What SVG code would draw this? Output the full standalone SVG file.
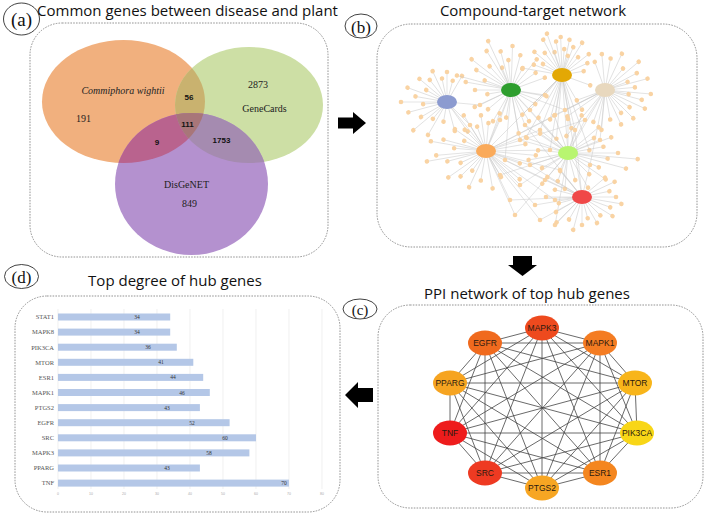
<svg xmlns="http://www.w3.org/2000/svg" xmlns:xlink="http://www.w3.org/1999/xlink" width="708" height="517" viewBox="0 0 708 517">
<style>
.box{fill:none;stroke:#7a7a7a;stroke-width:.8;stroke-dasharray:1.6 1.2}
.ttl{font-family:"Open Sans","Liberation Sans",sans-serif;font-size:15px;fill:#111;text-anchor:middle}
.lbl{font-family:"Liberation Serif",serif;font-size:19px;fill:#111;text-anchor:middle}
.tag{fill:none;stroke:#111;stroke-width:.8}
.vt{font-family:"Liberation Serif",serif;font-size:10px;fill:#222;text-anchor:middle}
.vb{font-family:"Liberation Sans",sans-serif;font-size:8px;font-weight:bold;fill:#111;text-anchor:middle}
.pt{font-family:"Liberation Sans",Arial,sans-serif;font-size:8.5px;fill:#2a1a10;text-anchor:middle}
.cat{font-family:"Liberation Serif",serif;font-size:6.5px;fill:#555;text-anchor:end}
.val{font-family:"Liberation Serif",serif;font-size:5.5px;fill:#333;text-anchor:middle}
.tick{font-family:"Liberation Sans",sans-serif;font-size:3.5px;fill:#aaa;text-anchor:middle}
.bar{fill:#B4C7E7}
.grid{stroke:#e6e6e6;stroke-width:.6}
.arr{fill:#000}
.ppe{fill:none;stroke:#444;stroke-width:.8}
.cte{fill:none;stroke:#c8c8c8;stroke-width:.5}
.sn{fill:#F9D3A3}
</style>
<defs>
<ellipse id="eO" cx="123.5" cy="101.5" rx="81.5" ry="61.5"/>
<ellipse id="eG" cx="249" cy="105" rx="74" ry="58"/>
<ellipse id="eP" cx="191.5" cy="184" rx="76.5" ry="71"/>
<clipPath id="cO"><use href="#eO"/></clipPath>
<clipPath id="cG"><use href="#eG"/></clipPath>
<g id="k16"><path d="M0 0H16" fill="none"/><circle cx="16" r="2.3" stroke="none"/></g>
<g id="k20"><path d="M0 0H20" fill="none"/><circle cx="20" r="2.3" stroke="none"/></g>
<g id="k22"><path d="M0 0H22" fill="none"/><circle cx="22" r="2.3" stroke="none"/></g>
<g id="k24"><path d="M0 0H24" fill="none"/><circle cx="24" r="2.3" stroke="none"/></g>
<g id="k26"><path d="M0 0H26" fill="none"/><circle cx="26" r="2.3" stroke="none"/></g>
<g id="k28"><path d="M0 0H28" fill="none"/><circle cx="28" r="2.3" stroke="none"/></g>
<g id="k30"><path d="M0 0H30" fill="none"/><circle cx="30" r="2.3" stroke="none"/></g>
<g id="k32"><path d="M0 0H32" fill="none"/><circle cx="32" r="2.3" stroke="none"/></g>
<g id="k34"><path d="M0 0H34" fill="none"/><circle cx="34" r="2.3" stroke="none"/></g>
<g id="k36"><path d="M0 0H36" fill="none"/><circle cx="36" r="2.3" stroke="none"/></g>
<g id="k38"><path d="M0 0H38" fill="none"/><circle cx="38" r="2.3" stroke="none"/></g>
<g id="k40"><path d="M0 0H40" fill="none"/><circle cx="40" r="2.3" stroke="none"/></g>
<g id="k42"><path d="M0 0H42" fill="none"/><circle cx="42" r="2.3" stroke="none"/></g>
<g id="k44"><path d="M0 0H44" fill="none"/><circle cx="44" r="2.3" stroke="none"/></g>
<g id="k46"><path d="M0 0H46" fill="none"/><circle cx="46" r="2.3" stroke="none"/></g>
<g id="k50"><path d="M0 0H50" fill="none"/><circle cx="50" r="2.3" stroke="none"/></g>
<g id="k54"><path d="M0 0H54" fill="none"/><circle cx="54" r="2.3" stroke="none"/></g>
<g id="k56"><path d="M0 0H56" fill="none"/><circle cx="56" r="2.3" stroke="none"/></g>
<g id="k60"><path d="M0 0H60" fill="none"/><circle cx="60" r="2.3" stroke="none"/></g>
<g id="k64"><path d="M0 0H64" fill="none"/><circle cx="64" r="2.3" stroke="none"/></g>
<g id="k70"><path d="M0 0H70" fill="none"/><circle cx="70" r="2.3" stroke="none"/></g>
<g id="k72"><path d="M0 0H72" fill="none"/><circle cx="72" r="2.3" stroke="none"/></g>
<g id="k80"><path d="M0 0H80" fill="none"/><circle cx="80" r="2.3" stroke="none"/></g>
</defs>
<rect width="708" height="517" fill="#fff"/>

<!-- Panel boxes and labels -->
<g id="panel-a">
<rect class="box" x="30" y="23" width="298" height="234" rx="32"/>
<ellipse class="tag" cx="21.5" cy="19" rx="18" ry="16"/>
<text class="lbl" x="21.5" y="26">(a)</text>
<text class="ttl" x="187.5" y="15.5">Common genes between disease and plant</text>
</g>
<g id="panel-b">
<rect class="box" x="377" y="24" width="320" height="223" rx="34"/>
<ellipse class="tag" cx="361" cy="26" rx="16" ry="12"/>
<text class="lbl" x="361" y="32.5" style="font-size:17px">(b)</text>
<text class="ttl" x="533" y="15.5">Compound-target network</text>
</g>
<g id="panel-c">
<rect class="box" x="378" y="305" width="325" height="203" rx="32"/>
<ellipse class="tag" cx="360" cy="309" rx="17" ry="10"/>
<text class="lbl" x="360" y="314.5" style="font-size:15px">(c)</text>
<text class="ttl" x="527" y="299">PPI network of top hub genes</text>
</g>
<g id="panel-d">
<rect class="box" x="15" y="296" width="325" height="216" rx="32"/>
<ellipse class="tag" cx="21.5" cy="276.5" rx="17" ry="12"/>
<text class="lbl" x="21.5" y="283" style="font-size:17px">(d)</text>
<text class="ttl" x="175" y="286">Top degree of hub genes</text>
</g>

<!-- Venn -->
<g id="venn">
<use href="#eO" fill="#F1B07E"/>
<use href="#eG" fill="#CDDFA5"/>
<use href="#eP" fill="#B491CF"/>
<use href="#eG" fill="#C9B26F" clip-path="url(#cO)"/>
<use href="#eP" fill="#B9638E" clip-path="url(#cO)"/>
<use href="#eP" fill="#A58BB0" clip-path="url(#cG)"/>
<g clip-path="url(#cO)"><use href="#eP" fill="#A87679" clip-path="url(#cG)"/></g>
<text class="vt" x="123" y="94" font-style="italic">Commiphora wightii</text>
<text class="vt" x="83.5" y="122">191</text>
<text class="vb" x="189" y="100">56</text>
<text class="vt" x="258" y="88">2873</text>
<text class="vt" x="264.5" y="112">GeneCards</text>
<text class="vb" x="187.5" y="127">111</text>
<text class="vb" x="157" y="145">9</text>
<text class="vb" x="221.5" y="143">1753</text>
<text class="vt" x="186.5" y="188">DisGeNET</text>
<text class="vt" x="189.5" y="207">849</text>
</g>

<!-- Compound-target network -->
<g id="ct-edges" class="cte">
<path d="M500 120L511 90M500 120L486 151M530 110L511 90M530 110L562 75M530 110L568 153M540 130L562 75M540 130L486 151M540 130L568 153M520 140L511 90M520 140L568 153M555 115L562 75M555 115L605 90M555 115L486 151M585 120L605 90M585 120L568 153M585 120L486 151M530 165L486 151M530 165L568 153M530 165L582 197M545 180L486 151M545 180L582 197M555 200L486 151M555 200L582 197M520 185L486 151M520 185L568 153M600 140L605 90M600 140L568 153M575 130L562 75M575 130L568 153M575 130L582 197M510 200L486 151M510 200L582 197M545 95L511 90M545 95L562 75M590 165L605 90M590 165L582 197M470 125L447 102M470 125L486 151M480 105L447 102M480 105L511 90M560 170L568 153M560 170L582 197M560 170L486 151M535 205L582 197M535 205L486 151M500 175L486 151M500 175L568 153M525 125L511 90M525 125L568 153M525 125L582 197M550 150L562 75M550 150L486 151M565 110L511 90M565 110L605 90M505 160L511 90M505 160L582 197M540 220L486 151M540 220L582 197M555 225L568 153M555 225L582 197M515 215L486 151M515 215L568 153M511 90L486 151M562 75L568 153M562 75L486 151M605 90L568 153M511 90L568 153M562 75L582 197M605 90L486 151M447 102L486 151"/>
</g>
<g id="ct-leaves" stroke="#c8c8c8" stroke-width=".5" fill="#F9D3A3">
<g transform="translate(447 102)">
<use href="#k20" transform="rotate(100)"/><use href="#k30" transform="rotate(75)"/><use href="#k36" transform="rotate(55)"/><use href="#k22" transform="rotate(130)"/><use href="#k30" transform="rotate(150)"/><use href="#k40" transform="rotate(165)"/><use href="#k46" transform="rotate(180)"/><use href="#k32" transform="rotate(190)"/><use href="#k42" transform="rotate(200)"/><use href="#k24" transform="rotate(210)"/><use href="#k36" transform="rotate(220)"/><use href="#k28" transform="rotate(232)"/><use href="#k34" transform="rotate(245)"/><use href="#k24" transform="rotate(258)"/><use href="#k30" transform="rotate(270)"/><use href="#k22" transform="rotate(285)"/><use href="#k44" transform="rotate(140)"/><use href="#k24" transform="rotate(175)"/><use href="#k30" transform="rotate(300)"/><use href="#k38" transform="rotate(120)"/>
</g>
<g transform="translate(511 90)">
<use href="#k36" transform="rotate(180)"/><use href="#k46" transform="rotate(190)"/><use href="#k28" transform="rotate(200)"/><use href="#k40" transform="rotate(210)"/><use href="#k50" transform="rotate(218)"/><use href="#k32" transform="rotate(228)"/><use href="#k46" transform="rotate(238)"/><use href="#k24" transform="rotate(248)"/><use href="#k40" transform="rotate(255)"/><use href="#k30" transform="rotate(265)"/><use href="#k44" transform="rotate(272)"/><use href="#k36" transform="rotate(285)"/><use href="#k24" transform="rotate(298)"/><use href="#k40" transform="rotate(310)"/><use href="#k30" transform="rotate(325)"/><use href="#k36" transform="rotate(340)"/><use href="#k24" transform="rotate(170)"/><use href="#k40" transform="rotate(155)"/><use href="#k30" transform="rotate(140)"/><use href="#k36" transform="rotate(120)"/><use href="#k28" transform="rotate(100)"/><use href="#k44" transform="rotate(80)"/><use href="#k36" transform="rotate(60)"/><use href="#k28" transform="rotate(30)"/><use href="#k36" transform="rotate(10)"/><use href="#k56" transform="rotate(195)"/><use href="#k54" transform="rotate(245)"/>
</g>
<g transform="translate(562 75)">
<use href="#k30" transform="rotate(200)"/><use href="#k22" transform="rotate(210)"/><use href="#k36" transform="rotate(220)"/><use href="#k28" transform="rotate(232)"/><use href="#k40" transform="rotate(242)"/><use href="#k24" transform="rotate(252)"/><use href="#k34" transform="rotate(260)"/><use href="#k38" transform="rotate(268)"/><use href="#k26" transform="rotate(275)"/><use href="#k36" transform="rotate(282)"/><use href="#k30" transform="rotate(292)"/><use href="#k38" transform="rotate(302)"/><use href="#k24" transform="rotate(312)"/><use href="#k34" transform="rotate(322)"/><use href="#k28" transform="rotate(335)"/><use href="#k22" transform="rotate(350)"/><use href="#k40" transform="rotate(190)"/><use href="#k30" transform="rotate(20)"/><use href="#k40" transform="rotate(60)"/><use href="#k54" transform="rotate(80)"/><use href="#k64" transform="rotate(95)"/><use href="#k46" transform="rotate(105)"/><use href="#k72" transform="rotate(120)"/><use href="#k56" transform="rotate(135)"/><use href="#k80" transform="rotate(70)"/><use href="#k20" transform="rotate(287)"/><use href="#k44" transform="rotate(250)"/>
</g>
<g transform="translate(605 90)">
<use href="#k32" transform="rotate(-80)"/><use href="#k40" transform="rotate(-65)"/><use href="#k28" transform="rotate(-50)"/><use href="#k44" transform="rotate(-40)"/><use href="#k36" transform="rotate(-28)"/><use href="#k44" transform="rotate(-15)"/><use href="#k30" transform="rotate(-5)"/><use href="#k46" transform="rotate(5)"/><use href="#k38" transform="rotate(15)"/><use href="#k44" transform="rotate(25)"/><use href="#k30" transform="rotate(35)"/><use href="#k40" transform="rotate(45)"/><use href="#k28" transform="rotate(55)"/><use href="#k38" transform="rotate(65)"/><use href="#k30" transform="rotate(80)"/><use href="#k40" transform="rotate(95)"/><use href="#k34" transform="rotate(110)"/><use href="#k60" transform="rotate(130)"/><use href="#k46" transform="rotate(145)"/><use href="#k36" transform="rotate(-95)"/><use href="#k30" transform="rotate(-110)"/><use href="#k30" transform="rotate(160)"/><use href="#k24" transform="rotate(-20)"/><use href="#k24" transform="rotate(10)"/>
</g>
<g transform="translate(486 151)">
<use href="#k30" transform="rotate(100)"/><use href="#k40" transform="rotate(115)"/><use href="#k24" transform="rotate(125)"/><use href="#k36" transform="rotate(135)"/><use href="#k46" transform="rotate(145)"/><use href="#k28" transform="rotate(155)"/><use href="#k40" transform="rotate(165)"/><use href="#k50" transform="rotate(175)"/><use href="#k32" transform="rotate(185)"/><use href="#k44" transform="rotate(195)"/><use href="#k24" transform="rotate(205)"/><use href="#k38" transform="rotate(215)"/><use href="#k30" transform="rotate(225)"/><use href="#k42" transform="rotate(238)"/><use href="#k26" transform="rotate(250)"/><use href="#k36" transform="rotate(262)"/><use href="#k28" transform="rotate(275)"/><use href="#k40" transform="rotate(290)"/><use href="#k38" transform="rotate(80)"/><use href="#k30" transform="rotate(60)"/><use href="#k44" transform="rotate(40)"/><use href="#k36" transform="rotate(20)"/><use href="#k50" transform="rotate(5)"/><use href="#k40" transform="rotate(-10)"/><use href="#k60" transform="rotate(170)"/><use href="#k56" transform="rotate(190)"/>
</g>
<g transform="translate(568 153)">
<use href="#k40" transform="rotate(-40)"/><use href="#k30" transform="rotate(-30)"/><use href="#k46" transform="rotate(-20)"/><use href="#k36" transform="rotate(-10)"/><use href="#k50" transform="rotate(0)"/><use href="#k40" transform="rotate(8)"/><use href="#k60" transform="rotate(15)"/><use href="#k70" transform="rotate(5)"/><use href="#k34" transform="rotate(25)"/><use href="#k46" transform="rotate(35)"/><use href="#k30" transform="rotate(45)"/><use href="#k40" transform="rotate(60)"/><use href="#k28" transform="rotate(75)"/><use href="#k36" transform="rotate(95)"/><use href="#k30" transform="rotate(110)"/><use href="#k40" transform="rotate(130)"/><use href="#k30" transform="rotate(150)"/><use href="#k40" transform="rotate(170)"/><use href="#k30" transform="rotate(185)"/><use href="#k44" transform="rotate(200)"/><use href="#k34" transform="rotate(215)"/><use href="#k46" transform="rotate(230)"/><use href="#k40" transform="rotate(250)"/><use href="#k34" transform="rotate(270)"/><use href="#k40" transform="rotate(290)"/>
</g>
<g transform="translate(582 197)">
<use href="#k30" transform="rotate(-40)"/><use href="#k36" transform="rotate(-25)"/><use href="#k28" transform="rotate(-12)"/><use href="#k34" transform="rotate(0)"/><use href="#k40" transform="rotate(10)"/><use href="#k30" transform="rotate(20)"/><use href="#k36" transform="rotate(32)"/><use href="#k26" transform="rotate(45)"/><use href="#k30" transform="rotate(60)"/><use href="#k22" transform="rotate(75)"/><use href="#k28" transform="rotate(90)"/><use href="#k34" transform="rotate(105)"/><use href="#k26" transform="rotate(120)"/><use href="#k36" transform="rotate(135)"/><use href="#k30" transform="rotate(150)"/><use href="#k24" transform="rotate(165)"/><use href="#k36" transform="rotate(180)"/><use href="#k28" transform="rotate(195)"/><use href="#k40" transform="rotate(210)"/><use href="#k34" transform="rotate(230)"/>
</g>
</g>
<g id="ct-shared" class="sn">
<circle cx="500" cy="120" r="2.3"/><circle cx="530" cy="110" r="2.3"/><circle cx="540" cy="130" r="2.3"/><circle cx="520" cy="140" r="2.3"/><circle cx="555" cy="115" r="2.3"/><circle cx="585" cy="120" r="2.3"/><circle cx="530" cy="165" r="2.3"/><circle cx="545" cy="180" r="2.3"/><circle cx="555" cy="200" r="2.3"/><circle cx="520" cy="185" r="2.3"/><circle cx="600" cy="140" r="2.3"/><circle cx="575" cy="130" r="2.3"/><circle cx="510" cy="200" r="2.3"/><circle cx="545" cy="95" r="2.3"/><circle cx="590" cy="165" r="2.3"/><circle cx="470" cy="125" r="2.3"/><circle cx="480" cy="105" r="2.3"/><circle cx="560" cy="170" r="2.3"/><circle cx="535" cy="205" r="2.3"/><circle cx="500" cy="175" r="2.3"/><circle cx="525" cy="125" r="2.3"/><circle cx="550" cy="150" r="2.3"/><circle cx="565" cy="110" r="2.3"/><circle cx="505" cy="160" r="2.3"/><circle cx="540" cy="220" r="2.3"/><circle cx="555" cy="225" r="2.3"/><circle cx="515" cy="215" r="2.3"/>
</g>
<g id="ct-hubs">
<g id="hub-blue"><ellipse cx="447" cy="102" rx="10" ry="7" fill="#8C9BD0"/></g>
<g id="hub-green"><ellipse cx="511" cy="90" rx="10" ry="7" fill="#2E9E2E"/></g>
<g id="hub-gold"><ellipse cx="562" cy="75" rx="10" ry="7" fill="#E3A805"/></g>
<g id="hub-beige"><ellipse cx="605" cy="90" rx="10" ry="7" fill="#E8D8BE"/></g>
<g id="hub-orange"><ellipse cx="486" cy="151" rx="10" ry="7" fill="#FAAA5A"/></g>
<g id="hub-lightgreen"><ellipse cx="568" cy="153" rx="10" ry="7" fill="#B8F570"/></g>
<g id="hub-red"><ellipse cx="582" cy="197" rx="10" ry="7" fill="#F04848"/></g>
</g>

<!-- PPI network -->
<g id="ppi-edges" class="ppe">
<path d="M542 328L485 343M542 328L600 343M542 328L450 383M542 328L635 383M542 328L450 433M542 328L637 433M542 328L485 473M542 328L600 473M542 328L542 488M485 343L600 343M485 343L450 383M485 343L635 383M485 343L450 433M485 343L637 433M485 343L485 473M485 343L600 473M485 343L542 488M600 343L450 383M600 343L635 383M600 343L450 433M600 343L637 433M600 343L485 473M600 343L600 473M600 343L542 488M450 383L635 383M450 383L450 433M450 383L637 433M450 383L485 473M450 383L600 473M450 383L542 488M635 383L450 433M635 383L637 433M635 383L485 473M635 383L600 473M635 383L542 488M450 433L637 433M450 433L485 473M450 433L600 473M450 433L542 488M637 433L485 473M637 433L600 473M637 433L542 488M485 473L600 473M485 473L542 488M600 473L542 488"/>
</g>
<g id="ppi-MAPK3"><ellipse cx="542" cy="328" rx="17" ry="12.5" fill="#EE4A1E"/><text class="pt" x="542" y="331">MAPK3</text></g>
<g id="ppi-EGFR"><ellipse cx="485" cy="343" rx="17" ry="12.5" fill="#F06A1E"/><text class="pt" x="485" y="346">EGFR</text></g>
<g id="ppi-MAPK1"><ellipse cx="600" cy="343" rx="17" ry="12.5" fill="#F47C22"/><text class="pt" x="600" y="346">MAPK1</text></g>
<g id="ppi-PPARG"><ellipse cx="450" cy="383" rx="17" ry="12.5" fill="#F6A421"/><text class="pt" x="450" y="386">PPARG</text></g>
<g id="ppi-MTOR"><ellipse cx="635" cy="383" rx="17" ry="12.5" fill="#F8B51A"/><text class="pt" x="635" y="386">MTOR</text></g>
<g id="ppi-TNF"><ellipse cx="450" cy="433" rx="17" ry="12.5" fill="#EE1C1C"/><text class="pt" x="450" y="436">TNF</text></g>
<g id="ppi-PIK3CA"><ellipse cx="637" cy="433" rx="17" ry="12.5" fill="#F8D617"/><text class="pt" x="637" y="436">PIK3CA</text></g>
<g id="ppi-SRC"><ellipse cx="485" cy="473" rx="17" ry="12.5" fill="#EE3A22"/><text class="pt" x="485" y="476">SRC</text></g>
<g id="ppi-ESR1"><ellipse cx="600" cy="473" rx="17" ry="12.5" fill="#F4861F"/><text class="pt" x="600" y="476">ESR1</text></g>
<g id="ppi-PTGS2"><ellipse cx="542" cy="488" rx="17" ry="12.5" fill="#F7A623"/><text class="pt" x="542" y="491">PTGS2</text></g>

<!-- Bar chart -->
<g id="chart">
<g class="grid">
<path d="M58 309V489M91 309V489M124 309V489M157 309V489M190 309V489M223 309V489M256 309V489M289 309V489M322 309V489"/>
</g>
<g class="bar">
<rect x="58" y="313.5" width="112.2" height="7"/>
<rect x="58" y="328.6" width="112.2" height="7"/>
<rect x="58" y="343.7" width="118.8" height="7"/>
<rect x="58" y="358.8" width="135.3" height="7"/>
<rect x="58" y="373.9" width="145.2" height="7"/>
<rect x="58" y="389" width="151.8" height="7"/>
<rect x="58" y="404.1" width="141.9" height="7"/>
<rect x="58" y="419.2" width="171.6" height="7"/>
<rect x="58" y="434.3" width="198" height="7"/>
<rect x="58" y="449.4" width="191.4" height="7"/>
<rect x="58" y="464.5" width="141.9" height="7"/>
<rect x="58" y="479.6" width="231" height="7"/>
</g>
<g class="cat">
<text x="54" y="319.3">STAT1</text>
<text x="54" y="334.4">MAPK8</text>
<text x="54" y="349.5">PIK3CA</text>
<text x="54" y="364.6">MTOR</text>
<text x="54" y="379.7">ESR1</text>
<text x="54" y="394.8">MAPK1</text>
<text x="54" y="409.9">PTGS2</text>
<text x="54" y="425">EGFR</text>
<text x="54" y="440.1">SRC</text>
<text x="54" y="455.2">MAPK3</text>
<text x="54" y="470.3">PPARG</text>
<text x="54" y="485.4">TNF</text>
</g>
<g class="val">
<text x="137" y="319">34</text>
<text x="137" y="334.1">34</text>
<text x="148" y="349.2">36</text>
<text x="161" y="364.3">41</text>
<text x="173" y="379.4">44</text>
<text x="182" y="394.5">46</text>
<text x="167" y="409.6">43</text>
<text x="192" y="424.7">52</text>
<text x="225" y="439.8">60</text>
<text x="209" y="454.9">58</text>
<text x="167" y="470">43</text>
<text x="284" y="485.1">70</text>
</g>
<g class="tick">
<text x="58" y="495">0</text><text x="91" y="495">10</text><text x="124" y="495">20</text><text x="157" y="495">30</text><text x="190" y="495">40</text><text x="223" y="495">50</text><text x="256" y="495">60</text><text x="289" y="495">70</text><text x="322" y="495">80</text>
</g>
</g>

<!-- Panel arrows -->
<g id="connectors" class="arr">
<polygon points="338,117.5 353,117.5 353,112 366,123 353,134 353,128.5 338,128.5"/>
<polygon points="513,256 532,256 532,265 537,265 522.5,276 508,265 513,265"/>
<polygon points="373,388 358,388 358,382 345,395 358,408 358,402 373,402"/>
</g>
</svg>
